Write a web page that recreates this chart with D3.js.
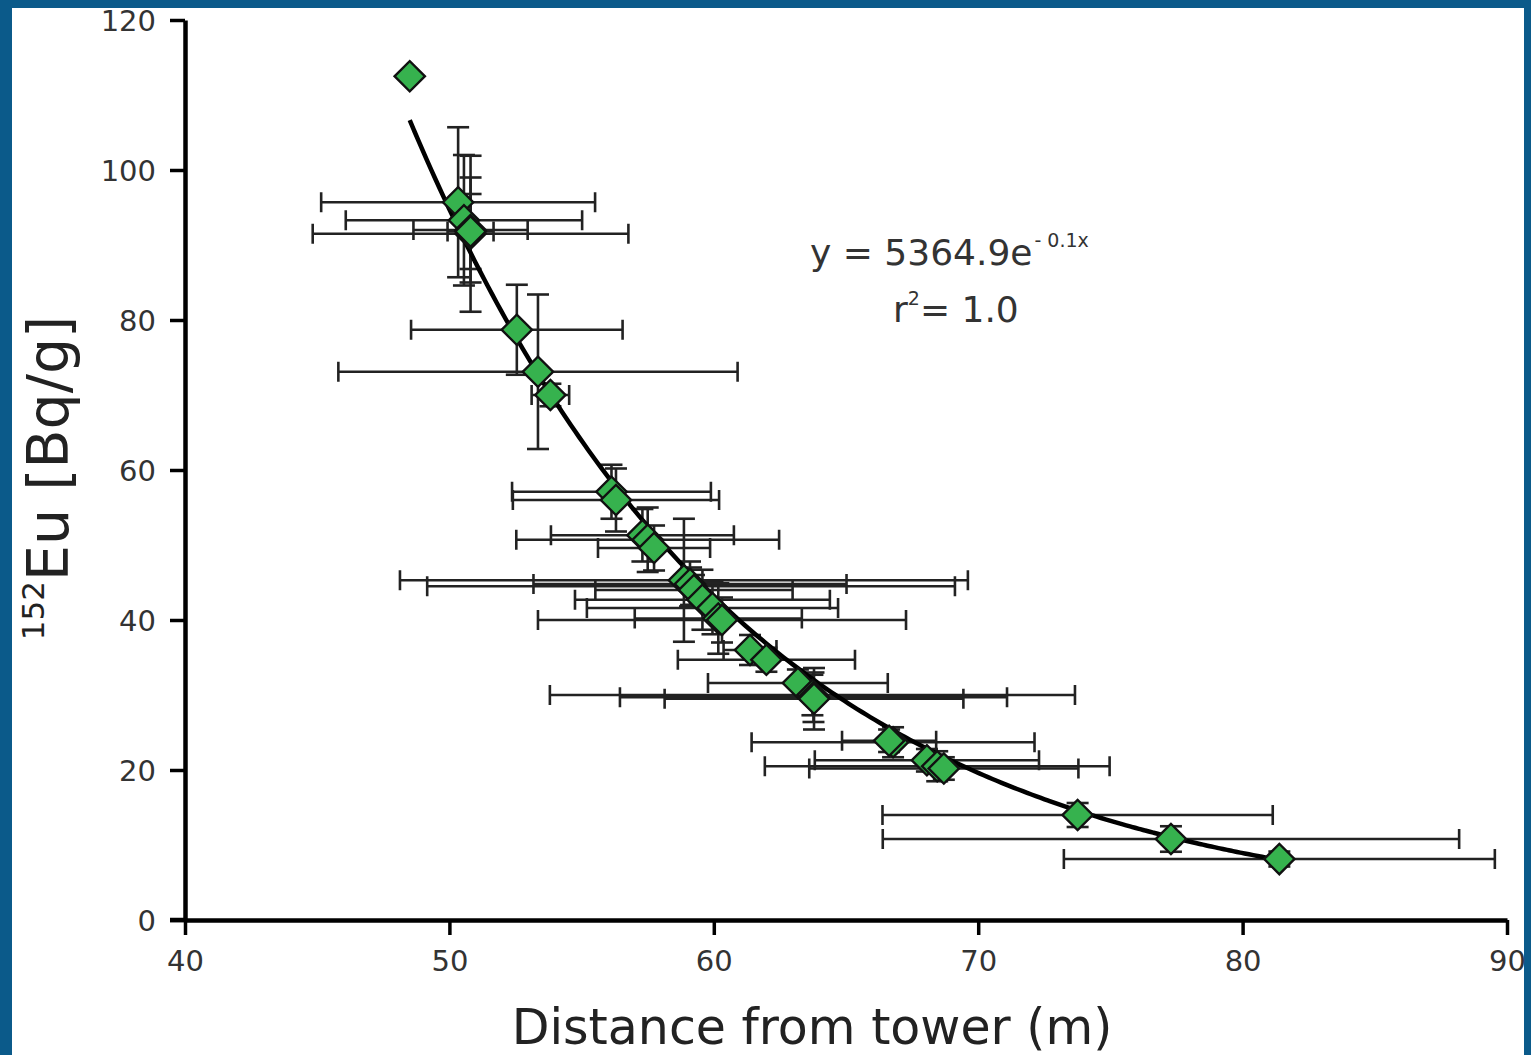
<!DOCTYPE html>
<html><head><meta charset="utf-8">
<script src="https://cdn.jsdelivr.net/npm/d3@7"></script>
<style>html,body{margin:0;padding:0;background:#0b5a8a;overflow:hidden} svg{display:block}</style>
</head><body>
<svg id="chart" width="1531" height="1055"></svg>
<script>
// ---- data ----
const distance    = [48.5, 50.33, 50.55, 50.8, 50.8, 50.8, 52.55, 53.35, 53.82, 56.13, 56.3, 57.3, 57.5, 57.74, 58.87, 59.14, 59.1, 59.25, 59.57, 59.95, 60.17, 60.31, 61.37, 61.99, 63.18, 63.73, 63.77, 63.79, 66.78, 66.63, 68.06, 68.45, 68.7, 73.76, 77.29, 81.39];
const activity    = [112.5, 95.7, 93.3, 91.5, 92.0, 91.8, 78.7, 73.1, 70.0, 57.1, 56.0, 51.3, 50.7, 49.6, 45.3, 44.5, 44.8, 44.0, 42.7, 41.6, 40.2, 40.0, 36.0, 34.7, 31.6, 30.0, 29.7, 29.5, 23.7, 23.9, 21.3, 20.5, 20.2, 14.0, 10.8, 8.13];
const distanceErr = [0, 5.18, 4.47, 5.97, 2.16, 0.87, 4.0, 7.55, 0.71, 3.76, 3.9, 3.46, 4.97, 2.12, 10.74, 9.98, 5.92, 3.73, 4.82, 4.75, 3.16, 6.96, 1.0, 3.35, 3.4, 9.93, 7.32, 5.65, 5.35, 1.78, 4.24, 6.52, 5.09, 7.38, 10.9, 8.15];
const activityErr = [0, 10.0, 8.7, 10.4, 7.0, 5.0, 6.0, 10.3, 1.5, 3.6, 4.2, 3.5, 4.3, 3.0, 8.2, 2.5, 3.0, 2.0, 4.0, 3.5, 4.7, 3.0, 2.0, 1.6, 1.8, 2.7, 3.3, 4.1, 2.0, 1.5, 1.5, 2.0, 1.5, 1.6, 1.7, 1.0];
const xTicks = [40, 50, 60, 70, 80, 90];
const yTicks = [0, 20, 40, 60, 80, 100, 120];
const xDomain = [40, 90];
const yDomain = [0, 120];
// trend line y = A * exp(-B x) as drawn in the picture, over the span of the data
const fitA = 4860, fitB = 0.07875;
const xTitle = "Distance from tower (m)";
const yTitleSup = "152", yTitleMain = "Eu [Bq/g]";
const eqMain = "y = 5364.9e", eqSup = "- 0.1x";

const pts = distance.map((d, i) => ({x: d, y: activity[i], ex: distanceErr[i], ey: activityErr[i]}));

const svg = d3.select("#chart");
svg.append("rect").attr("x", 0).attr("y", 0).attr("width", 1531).attr("height", 1055).attr("fill", "#0b5a8a");
svg.append("rect").attr("x", 12).attr("y", 8).attr("width", 1512).attr("height", 1047).attr("fill", "#ffffff");

const x = d3.scaleLinear().domain(xDomain).range([185, 1507]);
const y = d3.scaleLinear().domain(yDomain).range([920, 20]);

const font = "'DejaVu Sans', Verdana, sans-serif";
const ink = "#222";

// axes
const gx = svg.append("g").attr("transform", "translate(0,920)")
  .call(d3.axisBottom(x).tickValues(xTicks).tickSize(15).tickPadding(10).tickSizeOuter(0));
const gy = svg.append("g").attr("transform", "translate(185,0)")
  .call(d3.axisLeft(y).tickValues(yTicks).tickSize(15).tickPadding(14).tickSizeOuter(0));
[gx, gy].forEach(g => {
  g.select(".domain").attr("stroke", "#000").attr("stroke-width", 4.5);
  g.selectAll(".tick line").attr("stroke", "#000").attr("stroke-width", 3.5);
  g.selectAll(".tick text").attr("font-family", font).attr("font-size", 29).attr("fill", "#333");
});
gx.selectAll(".tick text").attr("dy", "0.9em");
gy.selectAll(".tick text").attr("dy", "0.35em");
svg.append("line").attr("x1", 170).attr("x2", 187).attr("y1", 920).attr("y2", 920).attr("stroke", "#000").attr("stroke-width", 4.5);

// error bars
const eb = svg.append("g").attr("stroke", ink).attr("stroke-width", 2.6).attr("fill", "none");
pts.forEach(p => {
  if (p.ex > 0) {
    const x0 = x(p.x - p.ex), x1 = x(p.x + p.ex), yy = y(p.y);
    eb.append("line").attr("x1", x0).attr("x2", x1).attr("y1", yy).attr("y2", yy);
    eb.append("line").attr("x1", x0).attr("x2", x0).attr("y1", yy - 10).attr("y2", yy + 10);
    eb.append("line").attr("x1", x1).attr("x2", x1).attr("y1", yy - 10).attr("y2", yy + 10);
  }
  if (p.ey > 0) {
    const y0 = y(p.y - p.ey), y1 = y(p.y + p.ey), xx = x(p.x);
    eb.append("line").attr("x1", xx).attr("x2", xx).attr("y1", y0).attr("y2", y1);
    eb.append("line").attr("x1", xx - 11).attr("x2", xx + 11).attr("y1", y0).attr("y2", y0);
    eb.append("line").attr("x1", xx - 11).attr("x2", xx + 11).attr("y1", y1).attr("y2", y1);
  }
});

// trend curve
const fx0 = d3.min(distance), fx1 = d3.max(distance);
const curvePts = d3.range(0, 201).map(i => {
  const xv = fx0 + (fx1 - fx0) * i / 200;
  return [xv, fitA * Math.exp(-fitB * xv)];
});
svg.append("path").datum(curvePts)
  .attr("d", d3.line().x(d => x(d[0])).y(d => y(d[1])).curve(d3.curveBasis))
  .attr("fill", "none").attr("stroke", "#000").attr("stroke-width", 4.5);

// markers
const diamond = d3.symbol().type(d3.symbolSquare).size(460);
svg.append("g").selectAll("path").data(pts).join("path")
  .attr("d", diamond)
  .attr("transform", d => `translate(${x(d.x)},${y(d.y)}) rotate(45)`)
  .attr("fill", "#36b24e").attr("stroke", "#111").attr("stroke-width", 2.4);

// equation
const eq = svg.append("text").attr("x", 810).attr("y", 265).attr("font-family", font).attr("font-size", 36).attr("fill", "#333");
eq.append("tspan").text(eqMain);
eq.append("tspan").attr("font-size", 19).attr("dy", -18).attr("dx", 2).text(eqSup);
const r2 = svg.append("text").attr("x", 893).attr("y", 322).attr("font-family", font).attr("font-size", 36).attr("fill", "#333");
r2.append("tspan").text("r");
r2.append("tspan").attr("font-size", 19).attr("dy", -17).text("2");
r2.append("tspan").attr("dy", 17).text("= 1.0");

// axis titles
svg.append("text").attr("x", 812).attr("y", 1044).attr("text-anchor", "middle")
  .attr("font-family", font).attr("font-size", 49).attr("fill", "#222").text(xTitle);
const yt = svg.append("text").attr("transform", "translate(68,478) rotate(-90)").attr("text-anchor", "middle")
  .attr("font-family", font).attr("font-size", 57).attr("fill", "#222");
yt.append("tspan").attr("font-size", 31).attr("dy", -24).text(yTitleSup);
yt.append("tspan").attr("dy", 24).text(yTitleMain);
</script>
</body></html>
